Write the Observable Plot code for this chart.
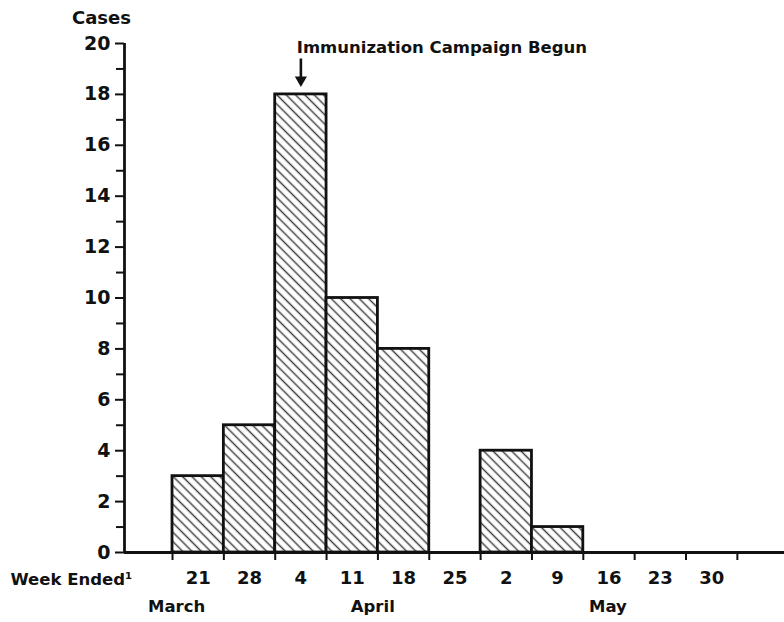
<!DOCTYPE html>
<html>
<head>
<meta charset="utf-8">
<script src="https://cdn.jsdelivr.net/npm/d3@7"></script>
<script src="https://cdn.jsdelivr.net/npm/@observablehq/plot@0.6"></script>
<style>
  html, body { margin: 0; padding: 0; background: #fff; }
  svg { display: block; }
</style>
</head>
<body>
<div id="chart"></div>
<script>
// Data
const weekLabels = ["21", "28", "4", "11", "18", "25", "2", "9", "16", "23", "30"];
const cases      = [3, 5, 18, 10, 8, 0, 4, 1, 0, 0, 0];
const monthLabels = ["March", "April", "May"];
const monthCenters = [0.08, 3.9, 8.48]; // in week-index units
const yMajorTicks = d3.range(0, 21, 2);
const yMinorTicks = d3.range(1, 20, 2);
const annotation = {text: "Immunization Campaign Begun", x: 2.42, y: 19.84, arrowX: 2.5, arrowTop: 19.41, arrowTip: 18.45};

const weeks = weekLabels.map((w, i) => ({i, label: w, cases: cases[i]}));
const xDomain = [-0.935, 11.918];
const FONT = "DejaVu Sans";

const svg = Plot.plot({
  width: 784,
  height: 622,
  marginLeft: 124,
  marginRight: 0,
  marginTop: 43,
  marginBottom: 70,
  style: {fontFamily: FONT, fontWeight: "bold", background: "#fff", color: "#111"},
  x: {domain: xDomain, axis: null},
  y: {domain: [0, 20], axis: null},
  marks: [
    Plot.rectY(weeks.filter(d => d.cases > 0), {
      x1: d => d.i, x2: d => d.i + 1, y: "cases",
      fill: "url(#hatch)", stroke: "#111", strokeWidth: 2.8
    }),
    // axes lines
    Plot.ruleY([0], {x1: xDomain[0], x2: xDomain[1], stroke: "#111", strokeWidth: 2.8}),
    Plot.ruleX([xDomain[0]], {y1: 0, y2: 20, stroke: "#111", strokeWidth: 2.8}),
    // y ticks
    Plot.axisY({anchor: "left", ticks: yMajorTicks, tickSize: 9, tickPadding: 5, fontSize: 19, fontWeight: "bold", strokeWidth: 2, label: null}),
    Plot.axisY({anchor: "left", ticks: yMinorTicks, tickSize: 8, tickFormat: () => "", strokeWidth: 2, label: null}),
    // x boundary ticks
    Plot.axisX({anchor: "bottom", ticks: d3.range(0, 12), tickSize: 8, tickFormat: () => "", strokeWidth: 2, label: null}),
    // x week labels
    Plot.axisX({anchor: "bottom", ticks: weeks.map(d => d.i + 0.5), tickSize: 0, tickPadding: 19,
      tickFormat: d => weekLabels[Math.floor(d)], fontSize: 18, fontWeight: "bold", label: null}),
    // month labels
    Plot.axisX({anchor: "bottom", ticks: monthCenters, tickSize: 0, tickPadding: 48,
      tickFormat: d => monthLabels[monthCenters.indexOf(d)], fontSize: 16.5, fontWeight: "bold", label: null}),
    // Cases label
    Plot.text(["Cases"], {frameAnchor: "top-left", dx: -23, dy: -25, fontSize: 18, fontWeight: "bold", textAnchor: "middle", lineAnchor: "middle", fill: "#111"}),
    // Week Ended label
    Plot.text(["Week Ended\u00b9"], {frameAnchor: "bottom-left", dx: -114, dy: 27, fontSize: 16.5, fontWeight: "bold", textAnchor: "start", lineAnchor: "middle", fill: "#111"}),
    // annotation
    Plot.text([annotation], {x: "x", y: "y", text: "text", textAnchor: "start", lineAnchor: "middle", fontSize: 16.5, fontWeight: "bold", fill: "#111"}),
    Plot.link([annotation], {x1: "arrowX", x2: "arrowX", y1: "arrowTop", y2: d => d.arrowTip + 0.2, stroke: "#111", strokeWidth: 2.6}),
    Plot.dot([annotation], {x: "arrowX", y: "arrowTip", symbol: "triangle", rotate: 180, r: 4.5, fill: "#111", dy: -3})
  ]
});

const defs = d3.select(svg).insert("defs", ":first-child");
const pat = defs.append("pattern")
  .attr("id", "hatch")
  .attr("patternUnits", "userSpaceOnUse")
  .attr("width", 6.6)
  .attr("height", 6.6)
  .attr("patternTransform", "rotate(45)");
pat.append("rect").attr("width", 6.6).attr("height", 6.6).attr("fill", "#fff");
pat.append("line").attr("x1", 0).attr("y1", 3.3).attr("x2", 6.6).attr("y2", 3.3)
  .attr("stroke", "#444").attr("stroke-width", 1.5);

document.getElementById("chart").appendChild(svg);
</script>
</body>
</html>
